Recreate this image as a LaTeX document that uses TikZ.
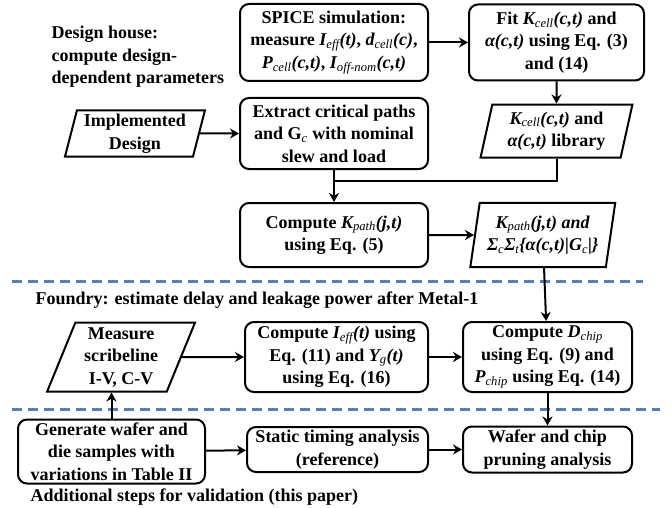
\documentclass[tikz,border=0pt]{standalone}
\usepackage{fontspec}
\setmainfont{Liberation Serif}[
    BoldFont={Liberation Serif Bold},
    ItalicFont={Liberation Serif Italic},
    BoldItalicFont={Liberation Serif Bold Italic}]
\usetikzlibrary{positioning,shapes.geometric,arrows.meta,calc}
\definecolor{sepblue}{RGB}{79,129,189}
\newcommand{\subtx}[1]{\textsubscript{\mdseries\itshape #1}}

\begin{document}
\begin{tikzpicture}[
    x=1pt, y=-1pt,
    font=\fontsize{18}{22.5}\selectfont\bfseries,
    stepbox/.style={
        rectangle, rounded corners=9pt, line width=2pt, draw=black, align=center, inner sep=0pt
    },
    databox/.style={
        trapezium, trapezium stretches=true, line width=2pt, draw=black, align=center, inner sep=0pt
    },
    link/.style={
        line width=2pt, -{Stealth[length=9pt,width=10pt]}
    },
    separator/.style={
        line width=3pt, draw=sepblue, dash pattern=on 10pt off 6pt
    }
]
    \useasboundingbox (0,0) rectangle (672,508);

    % design house
    \node (spice) [stepbox, minimum width=188pt, minimum height=77pt] at (334,42.5)
        { SPICE simulation: \\ measure \textit{I\subtx{eff}(t)}, \textit{d\subtx{cell}(c)}, \\ \textit{P\subtx{cell}(c,t)}, \textit{I\subtx{off-nom}(c,t)} };
    \node (fit) [stepbox, minimum width=175pt, minimum height=76pt, right=39pt of spice]
        { Fit \textit{K\subtx{cell}(c,t)} and \\ \textit{α(c,t)} using Eq. (3) \\ and (14) };
    \node (house) [align=left, anchor=west] at (48,57)
        { Design house: \\ compute design- \\ dependent parameters };

    \node (extract) [stepbox, minimum width=188pt, minimum height=71pt, below=15pt of spice]
        { Extract critical paths \\ and G\subtx{c} with nominal \\ slew and load };
    \node (impl) [databox, trapezium left angle=75, trapezium right angle=105,
        minimum width=140pt, minimum height=46pt, left=39pt of extract]
        { Implemented \\ Design };
    \node (kcell) [databox, trapezium left angle=77, trapezium right angle=103,
        minimum width=152pt, minimum height=53pt, below=22pt of fit]
        { \textit{K\subtx{cell}(c,t)} and \\ \textit{α(c,t)} library };

    \node (kpath) [stepbox, minimum width=188pt, minimum height=64pt, below=32pt of extract]
        { Compute \textit{K\subtx{path}(j,t)} \\ using Eq. (5) };
    \node (kpathsum) [databox, trapezium left angle=78, trapezium right angle=102,
        minimum width=145pt, minimum height=64pt, right=45pt of kpath]
        { \textit{K\subtx{path}(j,t) and} \\ \textit{Σ\subtx{c}Σ\subtx{t}\{α(c,t)|G\subtx{c}|\}} };

    \coordinate (join) at ($(extract.south)!0.33!(kpath.north)$);

    \draw [link] (spice) -- (fit);
    \draw [link] (fit) -- (kcell);
    \draw [link] (impl) -- (extract);
    \draw [link] (extract) -- (kpath);
    \draw [line width=2pt] (kcell.south) |- (join);
    \draw [link] (kpath) -- (kpathsum);

    \draw [separator] (12,281) -- (643,281);

    % foundry
    \node (foundry) [anchor=west] at (32,300)
        { Foundry: estimate delay and leakage power after Metal-1 };
    \node (ieff) [stepbox, minimum width=183pt, minimum height=70pt, below=53pt of kpath, xshift=2.5pt]
        { Compute \textit{I\subtx{eff}(t)} using \\ Eq. (11) and \textit{Y\subtx{g}(t)} \\ using Eq. (16) };
    \node (dchip) [stepbox, minimum width=169pt, minimum height=70pt, right=33pt of ieff]
        { Compute \textit{D\subtx{chip}} \\ using Eq. (9) and \\ \textit{P\subtx{chip}} using Eq. (14) };
    \node (measure) [databox, trapezium left angle=69, trapezium right angle=111,
        minimum width=148pt, minimum height=69pt, left=62pt of ieff]
        { Measure \\ scribeline \\ I-V, C-V };

    \draw [link] (kpathsum) -- (dchip);
    \draw [link] (measure) -- (ieff);
    \draw [link] (ieff) -- (dchip);

    \draw [separator] (12,409) -- (660,409);

    % validation
    \node (static) [stepbox, minimum width=181pt, minimum height=45pt, below=33pt of ieff, xshift=1pt]
        { Static timing analysis \\ (reference) };
    \node (generate) [stepbox, minimum width=187pt, minimum height=64pt, left=40pt of static, yshift=-2pt]
        { Generate wafer and \\ die samples with \\ variations in Table II };
    \node (wafer) [stepbox, minimum width=169pt, minimum height=46pt, right=33pt of static]
        { Wafer and chip \\ pruning analysis };
    \node (extra) [anchor=west] at (27,497)
        { Additional steps for validation (this paper) };

    \draw [link] (generate.north) -- (generate.north |- measure.south);
    \draw [link] (generate) -- (static);
    \draw [link] (static) -- (wafer);
    \draw [link] (dchip) -- (wafer);
\end{tikzpicture}
\end{document}
